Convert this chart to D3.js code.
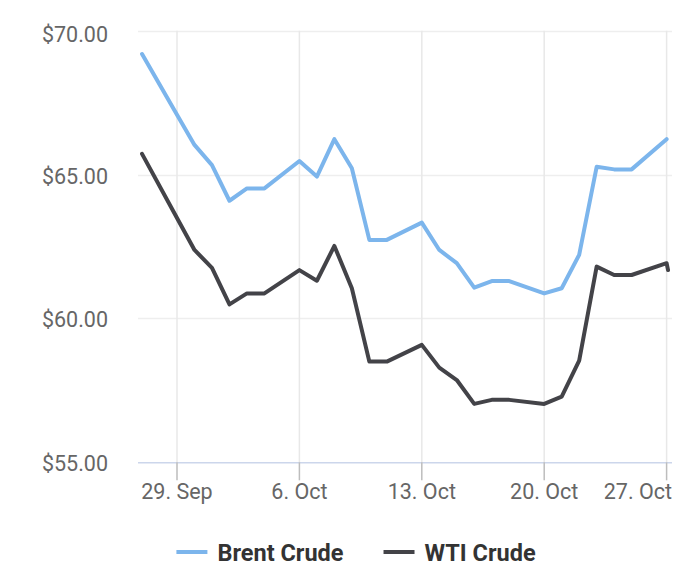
<!DOCTYPE html>
<html>
<head>
<meta charset="utf-8">
<script src="https://cdn.jsdelivr.net/npm/d3@7/dist/d3.min.js"></script>
<style>
  html, body { margin: 0; padding: 0; background: #ffffff; }
  svg { display: block; font-family: Roboto, "Noto Sans", sans-serif; }
</style>
</head>
<body>
<svg id="chart" width="700" height="579"></svg>
<script>
// ---------- data ----------
const brentDates = ["2025-09-27","2025-09-29","2025-09-30","2025-10-01","2025-10-02","2025-10-03","2025-10-04",
  "2025-10-06","2025-10-07","2025-10-08","2025-10-09","2025-10-10","2025-10-11",
  "2025-10-13","2025-10-14","2025-10-15","2025-10-16","2025-10-17","2025-10-18",
  "2025-10-20","2025-10-21","2025-10-22","2025-10-23","2025-10-24","2025-10-25","2025-10-27"];
const brentValues = [69.19, 67.08, 66.03, 65.33, 64.09, 64.52, 64.52,
  65.47, 64.93, 66.23, 65.22, 62.73, 62.73,
  63.33, 62.38, 61.92, 61.07, 61.30, 61.30,
  60.87, 61.05, 62.21, 65.27, 65.18, 65.18, 66.23];

const wtiDates = ["2025-09-27","2025-09-29","2025-09-30","2025-10-01","2025-10-02","2025-10-03","2025-10-04",
  "2025-10-06","2025-10-07","2025-10-08","2025-10-09","2025-10-10","2025-10-11",
  "2025-10-13","2025-10-14","2025-10-15","2025-10-16","2025-10-17","2025-10-18",
  "2025-10-20","2025-10-21","2025-10-22","2025-10-23","2025-10-24","2025-10-25","2025-10-27","2025-10-27T02:00"];
const wtiValues = [65.72, 63.49, 62.38, 61.76, 60.49, 60.87, 60.87,
  61.68, 61.31, 62.52, 61.05, 58.50, 58.50,
  59.08, 58.29, 57.86, 57.03, 57.17, 57.17,
  57.03, 57.28, 58.53, 61.80, 61.51, 61.51, 61.92, 61.68];

const seriesNames = ["Brent Crude", "WTI Crude"];
const seriesColors = ["#7cb5ec", "#434348"];

const xTickDates = ["2025-09-29","2025-10-06","2025-10-13","2025-10-20","2025-10-27"];
const xTickLabels = ["29. Sep","6. Oct","13. Oct","20. Oct","27. Oct"];
const yTicks = [55, 60, 65, 70];
const yTickLabels = ["$55.00","$60.00","$65.00","$70.00"];

// ---------- layout ----------
const plotLeft = 138, plotRight = 672, plotTop = 30.7, plotBottom = 462.3;

const parse = s => new Date(s + (s.length === 10 ? "T00:00:00Z" : ":00Z"));

const svg = d3.select("#chart");

const x = d3.scaleUtc()
  .domain([parse("2025-09-29"), parse("2025-10-27")])
  .range([177, 666.6]);
const y = d3.scaleLinear().domain([55, 70]).range([plotBottom, plotTop]);

// horizontal grid
svg.append("g").selectAll("line").data(yTicks).join("line")
  .attr("x1", plotLeft).attr("x2", plotRight)
  .attr("y1", d => Math.round(y(d)) + 0.5).attr("y2", d => Math.round(y(d)) + 0.5)
  .attr("stroke", d => d === 55 ? "none" : "#eeeeee").attr("stroke-width", 1.5);

// vertical grid
svg.append("g").selectAll("line").data(xTickDates).join("line")
  .attr("x1", d => x(parse(d))).attr("x2", d => x(parse(d)))
  .attr("y1", plotTop).attr("y2", plotBottom)
  .attr("stroke", "#e8e8e8").attr("stroke-width", 1.5);

// y labels
svg.append("g").selectAll("text").data(yTicks).join("text")
  .attr("x", 108)
  .attr("y", d => y(d) + (d === 70 ? 4 : 1.5))
  .attr("dominant-baseline", "central")
  .attr("text-anchor", "end")
  .attr("font-size", 21.5)
  .attr("fill", "#666666")
  .text((d, i) => yTickLabels[i]);

// x axis line
svg.append("line")
  .attr("x1", plotLeft).attr("x2", plotRight)
  .attr("y1", plotBottom + 0.5).attr("y2", plotBottom + 0.5)
  .attr("stroke", "#ccd6eb").attr("stroke-width", 1.5);

// x ticks
svg.append("g").selectAll("line").data(xTickDates).join("line")
  .attr("x1", d => x(parse(d))).attr("x2", d => x(parse(d)))
  .attr("y1", plotBottom).attr("y2", plotBottom + 18)
  .attr("stroke", "#bdbdbd").attr("stroke-width", 1.5);

svg.append("g").selectAll("text").data(xTickDates).join("text")
  .attr("x", d => x(parse(d)))
  .attr("y", 498.5)
  .attr("text-anchor", "middle")
  .attr("font-size", 21.5)
  .attr("fill", "#666666")
  .text((d, i) => xTickLabels[i])
  .each(function () {
    // keep labels inside the plot's right edge (justify overflow)
    const w = this.getComputedTextLength();
    const cxl = +this.getAttribute("x");
    if (cxl + w / 2 > plotRight) {
      this.setAttribute("text-anchor", "end");
      this.setAttribute("x", plotRight);
    }
  });

// lines
const line = d3.line().x(d => x(d.date)).y(d => y(d.value));
const series = [
  brentDates.map((d, i) => ({ date: parse(d), value: brentValues[i] })),
  wtiDates.map((d, i) => ({ date: parse(d), value: wtiValues[i] }))
];

series.forEach((s, i) => {
  svg.append("path")
    .datum(s)
    .attr("d", line)
    .attr("fill", "none")
    .attr("stroke", seriesColors[i])
    .attr("stroke-width", 4)
    .attr("stroke-linejoin", "round")
    .attr("stroke-linecap", "round");
});

// legend
const legend = svg.append("g");
const legendY = 552;
const symW = 31, symGap = 10, itemGap = 40;
const items = seriesNames.map((name, i) => {
  const g = legend.append("g");
  g.append("line").attr("x1", 0).attr("x2", symW).attr("y1", legendY).attr("y2", legendY)
    .attr("stroke", seriesColors[i]).attr("stroke-width", 4);
  const t = g.append("text").attr("x", symW + symGap).attr("y", legendY + 8.5)
    .attr("font-size", 23.5).attr("font-weight", "bold").attr("fill", "#333333").text(name);
  return { g, w: symW + symGap + t.node().getComputedTextLength() };
});
const totalW = d3.sum(items, d => d.w) + itemGap * (items.length - 1);
let cx = 356 - totalW / 2;
items.forEach(it => { it.g.attr("transform", `translate(${cx},0)`); cx += it.w + itemGap; });
</script>
</body>
</html>
